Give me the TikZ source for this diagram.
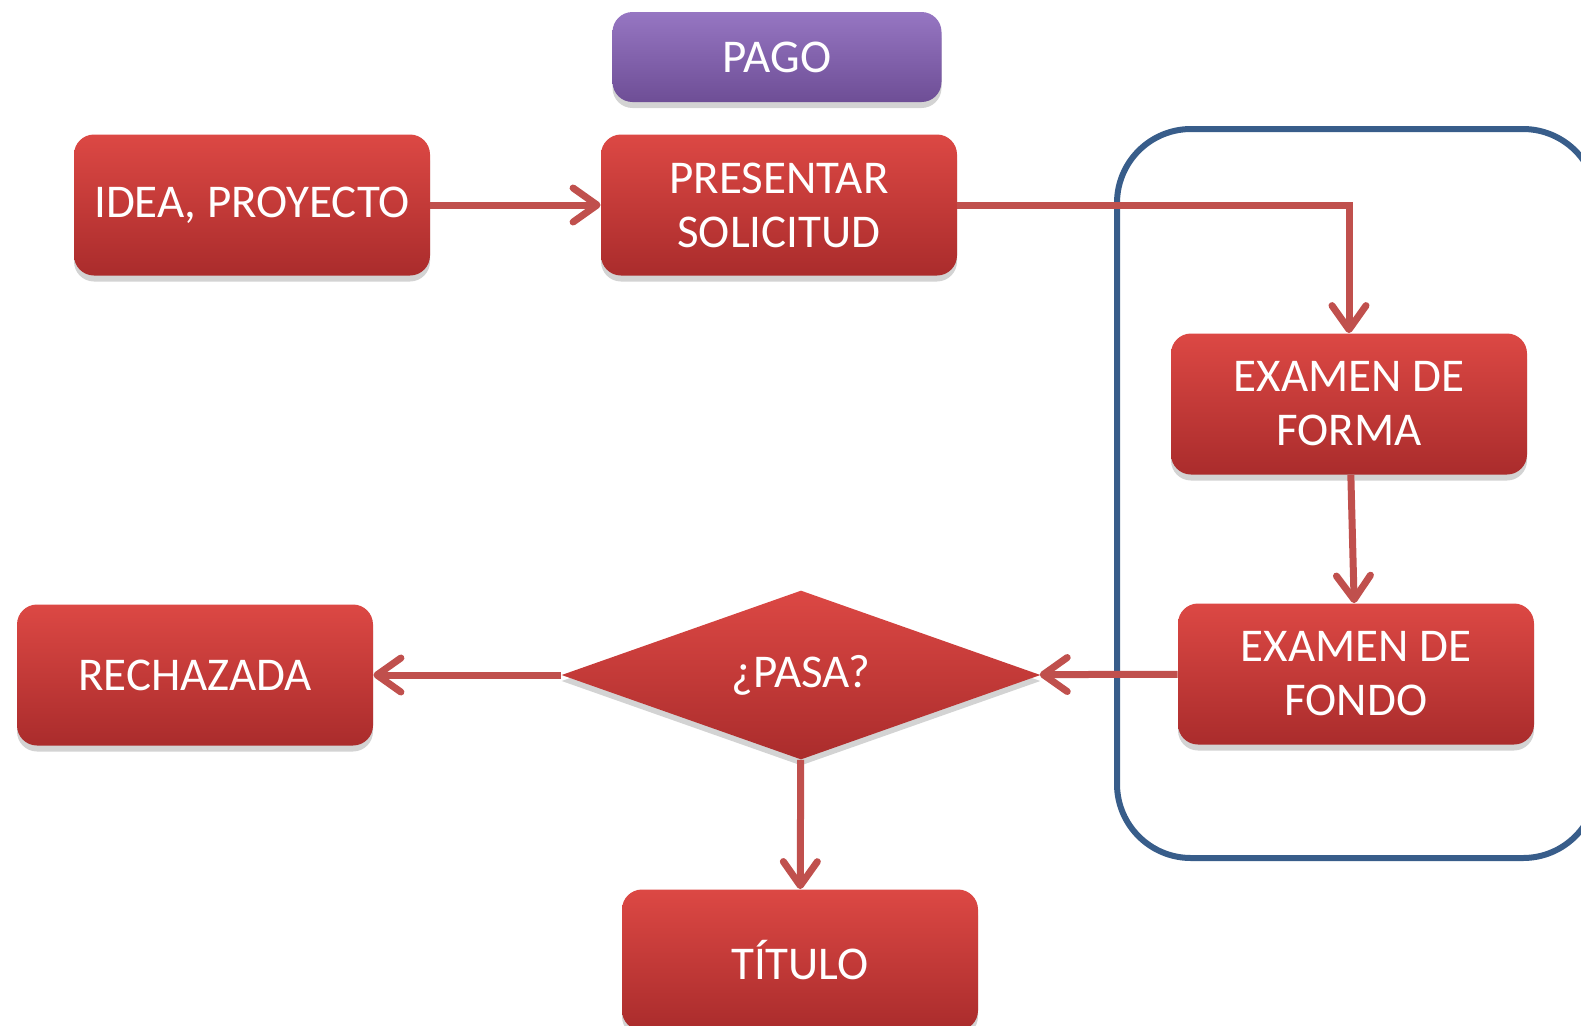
\documentclass[tikz,border=0pt]{standalone}
\usepackage{fontspec}
\setmainfont{Carlito}
\usetikzlibrary{shapes.geometric}
\usetikzlibrary{arrows.meta}
\usetikzlibrary{shadows}

\definecolor{boxtop}{RGB}{220,72,68}
\definecolor{boxbot}{RGB}{170,44,44}
\definecolor{pagotop}{RGB}{150,118,194}
\definecolor{pagobot}{RGB}{110,78,150}
\definecolor{flowred}{RGB}{192,80,77}
\definecolor{frameblue}{RGB}{56,93,138}

\begin{document}
\begin{tikzpicture}[x=0.5pt,y=-0.5pt,
    box/.style={rectangle, rounded corners=10pt, top color=boxtop, bottom color=boxbot,
        minimum width=178pt, minimum height=70.5pt, text=white, align=center,
        font=\fontsize{23.5}{27}\selectfont,
        drop shadow={shadow xshift=0pt, shadow yshift=-3pt, opacity=0.35}},
    flow/.style={draw=flowred, line width=3.5pt, -{Straight Barb[length=12pt,width=17pt,round]}}]

    \useasboundingbox (0,0) rectangle (1581,1025);

    % marco del examen
    \draw[frameblue, line width=3pt, rounded corners=37pt] (1117,129) rectangle (1597,858);

    \node[box, top color=pagotop, bottom color=pagobot, minimum width=164.5pt,
        minimum height=45pt] (pago) at (777,57) {PAGO};
    \node[box] (idea) at (252,205) {IDEA, PROYECTO};
    \node[box] (solicitud) at (779,205) {PRESENTAR\\SOLICITUD};
    \node[box] (forma) at (1349,404) {EXAMEN DE\\FORMA};
    \node[box] (fondo) at (1356,674) {EXAMEN DE\\FONDO};
    \node[box] (rechazada) at (195,675) {RECHAZADA};
    \node[box, diamond, rounded corners=0pt, aspect=2.83, inner sep=0pt,
        minimum width=239.5pt, minimum height=84.5pt] (pasa) at (801,675) {¿PASA?};
    \node[box] (titulo) at (800,960) {TÍTULO};

    \draw[flow] (idea) -- (solicitud);
    \draw[flow] (solicitud.east) -| (forma.north);
    \draw[flow] (forma) -- (fondo);
    \draw[flow] (fondo) -- (pasa);
    \draw[flow] (pasa) -- (rechazada);
    \draw[flow] (pasa) -- (titulo);

\end{tikzpicture}
\end{document}
